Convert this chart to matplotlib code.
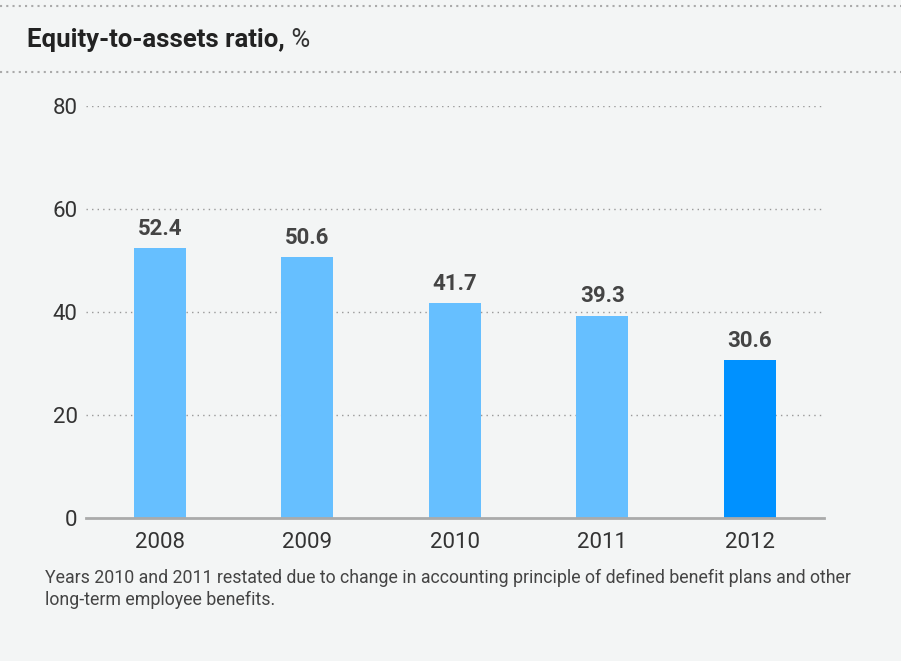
import matplotlib.pyplot as plt
from matplotlib.lines import Line2D

years = ['2008', '2009', '2010', '2011', '2012']
ratios = [52.4, 50.6, 41.7, 39.3, 30.6]
bar_colors = ['#66bfff', '#66bfff', '#66bfff', '#66bfff', '#0091ff']
y_ticks = [0, 20, 40, 60, 80]
title_bold = 'Equity-to-assets ratio,'
title_unit = ' %'
note = ('Years 2010 and 2011 restated due to change in accounting principle of defined benefit plans and other\n'
        'long-term employee benefits.')

W, H = 901, 661
bg = '#f3f5f5'
plt.rcParams['font.family'] = ['Roboto', 'DejaVu Sans']

fig = plt.figure(figsize=(W / 100, H / 100), dpi=100, facecolor=bg)

# plot area in pixel coords -> figure fractions
left, right, top, bottom = 86, 823.5, 106, 518
ax = fig.add_axes([left / W, 1 - bottom / H, (right - left) / W, (bottom - top) / H])
ax.set_facecolor(bg)

x = range(len(years))
ax.bar(x, ratios, width=0.353, color=bar_colors, zorder=3)
for i, v in enumerate(ratios):
    ax.annotate(f'{v:.1f}', (i, v), xytext=(0, 6), textcoords='offset points',
                ha='center', va='bottom', fontsize=16, fontweight='bold', color='#444444')

ax.set_xlim(-0.5, len(years) - 0.5)
ax.set_ylim(0, 80)
ax.set_yticks(y_ticks)
ax.set_yticklabels([str(t) for t in y_ticks])
ax.set_xticks(list(x))
ax.set_xticklabels(years)
ax.tick_params(axis='both', length=0, labelsize=16, colors='#333333')
ax.tick_params(axis='y', pad=6)
ax.tick_params(axis='x', pad=10)

for t in y_ticks[1:]:
    ax.axhline(t, color='#999999', lw=1, ls=(0, (1, 3)), zorder=1)
ax.axhline(0, color='#aaaaaa', lw=2, zorder=4, clip_on=False)
for s in ax.spines.values():
    s.set_visible(False)

# header lines and title
for yp in (6, 72):
    fig.add_artist(Line2D([0, 1], [1 - yp / H] * 2, transform=fig.transFigure,
                          color='#aaaaaa', lw=1.5, ls=(0, (1, 2))))
t1 = fig.text(27 / W, 1 - 40 / H, title_bold, fontsize=18.5, fontweight='bold',
              color='#222222', va='center', ha='left')
fig.canvas.draw()
bb = t1.get_window_extent()
fig.text(bb.x1 / W, 1 - 40 / H, title_unit, fontsize=18.5, color='#333333', va='center', ha='left')

fig.text(45 / W, 1 - 569 / H, note, fontsize=12.8, color='#444444', va='top', ha='left',
         linespacing=1.3)

fig.savefig('out.png', dpi=100, facecolor=bg)
